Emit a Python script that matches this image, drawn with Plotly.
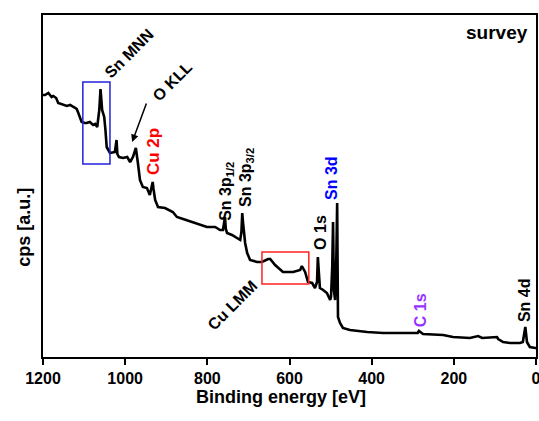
import plotly.graph_objects as go

# XPS survey spectrum (intensity in arbitrary units)
binding_energy = [1200, 1195, 1187, 1179, 1175, 1168, 1163, 1154, 1142, 1134, 1122, 1118, 1114, 1110,
                  1106, 1098, 1094, 1086, 1078, 1073, 1068, 1063, 1060, 1056, 1051, 1048, 1045, 1037,
                  1025, 1021, 1019, 1015, 1005, 995, 988, 981, 974, 969, 964, 957, 947, 940, 933, 931,
                  927, 920, 903, 884, 874, 859, 837, 818, 801, 781, 769, 762, 757, 755, 752, 740, 728,
                  720, 717, 715, 713, 708, 703, 696, 679, 667, 652, 647, 635, 623, 616, 591, 574, 570,
                  562, 555, 545, 538, 533, 531, 528, 526, 518, 509, 501, 499, 496, 494, 492, 489, 486,
                  484, 482, 477, 470, 453, 411, 372, 331, 307, 288, 285, 280, 275, 226, 202, 161, 141,
                  131, 95, 92, 80, 63, 39, 32, 28, 26, 22, 15, 2, 0]
intensity = [262, 262, 264, 260, 261, 259, 254, 253, 251, 252, 249, 248, 244, 240,
             235, 234, 234, 235, 232, 233, 230, 247, 268, 247, 240, 227, 210, 204,
             205, 217, 203, 200, 199, 200, 195, 200, 209, 194, 177, 170, 169, 162, 175, 168,
             157, 150, 149, 145, 140, 138, 135, 132, 130, 130, 127, 127, 140, 128, 124, 122, 119,
             117, 125, 144, 134, 114, 104, 97, 95, 95, 98, 98, 92, 87, 85, 85, 87, 91,
             85, 75, 74, 69, 75, 100, 75, 69, 67, 64, 57, 60, 90, 135, 67, 57, 100,
             154, 40, 34, 29, 27, 25, 24, 24, 24, 24, 26, 24, 23, 22, 20, 19, 21,
             19, 20, 18, 15, 14, 14, 15, 24, 30, 15, 10, 9, 9]

x_ticks = [1200, 1000, 800, 600, 400, 200, 0]

FONT = "Arial, Liberation Sans, sans-serif"

fig = go.Figure()
fig.add_trace(go.Scatter(x=binding_energy, y=intensity, mode="lines",
                         line=dict(color="black", width=2.6), showlegend=False,
                         hoverinfo="skip"))

def lbl(text, x, y, color="black", angle=-90, size=16):
    fig.add_annotation(x=x, y=y, xref="x", yref="y", text="<b>%s</b>" % text,
                       showarrow=False, textangle=angle, xanchor="center", yanchor="middle",
                       font=dict(family=FONT, size=size, color=color))

lbl("Sn MNN", 991, 304, angle=-45)
lbl("O KLL", 886, 276, angle=-45)
lbl("Cu 2p", 932, 205, color="#FF0000", size=17)
lbl("Sn 3p<sub>1/2</sub>", 755, 166)
lbl("Sn 3p<sub>3/2</sub>", 706, 180)
lbl("O 1s", 526, 125)
lbl("Sn 3d", 499, 179, color="#0000FF")
lbl("Cu LMM", 740, 52, angle=-45)
lbl("C 1s", 282, 47, color="#9933FF")
lbl("Sn 4d", 29, 57)

fig.add_annotation(x=15, y=325, xref="x", yref="y", text="<b>survey</b>", showarrow=False,
                   xanchor="right", yanchor="middle", font=dict(family=FONT, size=19, color="black"))

# arrow for O KLL
fig.add_annotation(x=983, y=215, ax=947, ay=255, xref="x", yref="y", axref="x", ayref="y",
                   text="", showarrow=True, arrowhead=2, arrowsize=1, arrowwidth=1.5,
                   arrowcolor="black")

# highlight boxes
fig.add_shape(type="rect", x0=1103, x1=1037, y0=193, y1=275, xref="x", yref="y",
              line=dict(color="#2222DD", width=1.5))
fig.add_shape(type="rect", x0=667, x1=553, y0=73, y1=105, xref="x", yref="y",
              line=dict(color="#FF2222", width=1.5))

# axis titles as annotations
fig.add_annotation(x=-0.039, y=0.38, xref="paper", yref="paper", text="<b>cps [a.u.]</b>",
                   showarrow=False, textangle=-90, xanchor="center", yanchor="middle",
                   font=dict(family=FONT, size=18, color="black"))
fig.add_annotation(x=0.483, y=-0.117, xref="paper", yref="paper", text="<b>Binding energy [eV]</b>",
                   showarrow=False, xanchor="center", yanchor="middle",
                   font=dict(family=FONT, size=18, color="black"))

fig.update_layout(
    width=539, height=421,
    margin=dict(l=43, r=3, t=15, b=64, autoexpand=False),
    paper_bgcolor="white", plot_bgcolor="white",
    font=dict(family=FONT, color="black"),
    xaxis=dict(range=[1200, 0], tickvals=x_ticks, ticktext=["<b>%d</b>" % v for v in x_ticks],
               ticks="outside", ticklen=6, tickwidth=2, tickcolor="black", automargin=False,
               ticklabeloverflow="allow",
               showline=True, linewidth=2, linecolor="black", mirror=True,
               showgrid=False, zeroline=False, tickfont=dict(family=FONT, size=16, color="black")),
    yaxis=dict(range=[0, 342], showticklabels=False, ticks="", automargin=False,
               showline=True, linewidth=2, linecolor="black", mirror=True,
               showgrid=False, zeroline=False),
)

fig.write_html("out.html", config={"displayModeBar": False, "responsive": False},
               post_script="document.body.style.margin='0';document.body.style.overflow='hidden';")
